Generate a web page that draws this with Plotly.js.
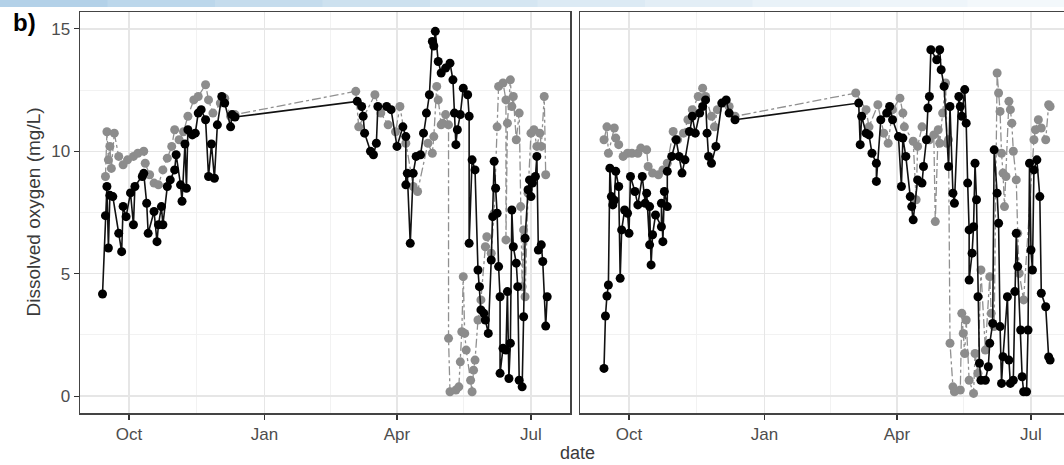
<!DOCTYPE html>
<html>
<head>
<meta charset="utf-8">
<script src="https://cdn.plot.ly/plotly-3.0.1.min.js"></script>
<style>
  html, body { margin: 0; padding: 0; background: #ffffff; overflow: hidden; }
  #chart { width: 1075px; height: 465px; }
</style>
</head>
<body>
<div id="chart"></div>
<script>
// ---------------- DATA ----------------
const tickDates = ['2017-10-01', '2018-01-01', '2018-04-01', '2018-07-01'];
const tickLabels = ['Oct', 'Jan', 'Apr', 'Jul'];
const minorDates = ['2017-11-16', '2018-02-15', '2018-05-16'];
const yTicks = [0, 5, 10, 15];
const yMinor = [2.5, 7.5, 12.5];

// Panel A (left) - black series
const aBlackDate = ['2017-09-13','2017-09-15','2017-09-16','2017-09-17','2017-09-18','2017-09-20','2017-09-24','2017-09-26','2017-09-27','2017-09-29',
 '2017-10-02','2017-10-04','2017-10-05','2017-10-10','2017-10-11','2017-10-13','2017-10-14','2017-10-18','2017-10-20','2017-10-21',
 '2017-10-23','2017-10-24','2017-10-27','2017-10-29','2017-11-01','2017-11-02','2017-11-05','2017-11-06','2017-11-08','2017-11-09',
 '2017-11-10','2017-11-13','2017-11-15','2017-11-17','2017-11-19','2017-11-22','2017-11-24','2017-11-26','2017-11-28','2017-11-30',
 '2017-12-03','2017-12-05','2017-12-09','2017-12-10','2017-12-12',
 '2018-03-05','2018-03-08','2018-03-09','2018-03-10','2018-03-14','2018-03-16','2018-03-18','2018-03-19','2018-03-25','2018-03-28',
 '2018-04-01','2018-04-05','2018-04-07','2018-04-07','2018-04-08','2018-04-10','2018-04-12','2018-04-14','2018-04-17','2018-04-19',
 '2018-04-21','2018-04-23','2018-04-25','2018-04-26','2018-04-27','2018-04-29','2018-05-01','2018-05-04','2018-05-07','2018-05-09',
 '2018-05-10','2018-05-11','2018-05-12','2018-05-14','2018-05-16','2018-05-19','2018-05-20','2018-05-20','2018-05-22','2018-05-24',
 '2018-05-26','2018-05-27','2018-05-28','2018-05-30','2018-05-31','2018-06-02','2018-06-04','2018-06-05','2018-06-06','2018-06-07',
 '2018-06-08','2018-06-09','2018-06-10','2018-06-10','2018-06-12','2018-06-14','2018-06-15','2018-06-16','2018-06-17','2018-06-18',
 '2018-06-19','2018-06-21','2018-06-22','2018-06-23','2018-06-25','2018-06-26','2018-06-27','2018-06-29','2018-06-30','2018-07-01',
 '2018-07-02','2018-07-04','2018-07-05','2018-07-06','2018-07-08','2018-07-09','2018-07-11','2018-07-12'];
const aBlackDO = [4.17,7.37,8.56,6.05,8.20,8.15,6.65,5.90,7.75,7.33,
 8.30,7.00,8.56,8.97,9.10,7.88,6.65,7.54,6.31,7.00,
 7.74,7.00,8.56,8.83,9.24,9.86,8.63,7.96,10.30,8.49,
 10.88,10.67,10.74,11.56,11.70,11.29,8.97,10.30,8.90,11.08,
 12.24,11.97,11.00,11.50,11.40,
 12.04,11.83,11.43,10.74,10.00,9.86,10.33,11.83,11.83,11.70,
 10.20,11.00,10.60,8.63,9.10,6.24,9.10,9.79,9.86,10.74,
 11.56,12.31,14.49,14.30,14.90,13.67,13.20,13.40,13.60,12.92,
 11.56,10.27,10.88,11.50,12.58,12.31,11.43,6.24,9.65,9.24,
 5.15,4.47,3.52,3.38,3.11,2.56,5.56,7.33,9.59,8.49,
 7.47,5.29,4.06,0.93,1.95,1.88,4.27,0.72,2.16,7.60,
 6.10,5.43,4.47,0.65,0.38,3.24,6.45,8.43,8.83,8.15,
 8.70,8.97,9.79,5.97,6.18,5.50,2.86,4.06];

// Panel A (left) - grey series
const aGreyDate = ['2017-09-15','2017-09-16','2017-09-17','2017-09-18','2017-09-19','2017-09-21','2017-09-24','2017-09-27','2017-09-30','2017-10-04',
 '2017-10-07','2017-10-11','2017-10-12','2017-10-15','2017-10-18','2017-10-21','2017-10-24','2017-10-27','2017-10-30','2017-11-01',
 '2017-11-04','2017-11-07','2017-11-10','2017-11-14','2017-11-17','2017-11-22','2017-11-24','2017-11-27','2017-12-02','2017-12-05',
 '2017-12-09','2017-12-12',
 '2018-03-04','2018-03-06','2018-03-17','2018-03-21','2018-03-26','2018-03-31','2018-04-03','2018-04-07','2018-04-12','2018-04-15',
 '2018-04-22','2018-04-25','2018-04-26','2018-04-28','2018-04-29','2018-05-01','2018-05-02','2018-05-04','2018-05-06','2018-05-06',
 '2018-05-07','2018-05-11','2018-05-13','2018-05-14','2018-05-15','2018-05-16','2018-05-17','2018-05-18','2018-05-21','2018-05-22',
 '2018-05-23','2018-05-24','2018-05-26','2018-05-28','2018-05-31','2018-06-01','2018-06-04','2018-06-06','2018-06-08','2018-06-09',
 '2018-06-12','2018-06-14','2018-06-14','2018-06-15','2018-06-17','2018-06-18','2018-06-19','2018-06-21','2018-06-23','2018-06-24',
 '2018-06-25','2018-06-26','2018-06-27','2018-06-29','2018-07-01','2018-07-03','2018-07-05','2018-07-07','2018-07-08','2018-07-10',
 '2018-07-11'];
const aGreyDO = [8.97,10.80,9.65,10.20,9.30,10.74,9.79,9.45,9.65,9.79,
 9.92,10.00,9.51,9.04,8.70,8.63,9.24,9.72,10.20,10.88,
 10.47,10.80,11.43,12.10,12.24,12.72,12.10,11.56,11.97,12.17,
 11.43,11.50,
 12.45,11.00,12.31,11.56,11.08,10.80,11.83,10.33,8.56,8.36,
 10.33,9.92,10.60,12.65,12.10,11.08,11.15,11.50,11.08,2.36,
 0.18,0.25,0.38,1.40,2.63,4.88,2.56,1.88,0.65,0.18,
 1.06,1.47,3.11,3.93,6.10,6.51,5.84,7.47,11.00,12.65,
 12.79,12.10,6.38,11.15,12.92,11.83,12.24,10.47,11.56,7.74,
 4.47,6.79,4.06,8.29,10.74,10.88,10.20,10.74,10.20,12.24,
 9.04];

// Panel B (right) - black series
const bBlackDate = ['2017-09-14','2017-09-15','2017-09-16','2017-09-17','2017-09-18','2017-09-19','2017-09-20','2017-09-21','2017-09-22','2017-09-24',
 '2017-09-25','2017-09-26','2017-09-28','2017-09-30','2017-10-01','2017-10-02','2017-10-05','2017-10-07','2017-10-10','2017-10-12',
 '2017-10-13','2017-10-15','2017-10-15','2017-10-16','2017-10-17','2017-10-19','2017-10-23','2017-10-23','2017-10-24','2017-10-25',
 '2017-10-27','2017-10-27','2017-10-30','2017-11-02','2017-11-04','2017-11-06','2017-11-08','2017-11-11','2017-11-13','2017-11-15',
 '2017-11-18','2017-11-20','2017-11-22','2017-11-23','2017-11-24','2017-11-26','2017-11-29','2017-12-03','2017-12-06','2017-12-08',
 '2017-12-12',
 '2018-03-06','2018-03-07','2018-03-08','2018-03-11','2018-03-13','2018-03-15','2018-03-18','2018-03-18','2018-03-21','2018-03-25',
 '2018-03-27','2018-03-29','2018-04-02','2018-04-04','2018-04-05','2018-04-07','2018-04-10','2018-04-11','2018-04-12','2018-04-15',
 '2018-04-18','2018-04-19','2018-04-21','2018-04-22','2018-04-23','2018-04-24','2018-04-28','2018-04-30','2018-05-01','2018-05-03',
 '2018-05-06','2018-05-07','2018-05-09','2018-05-10','2018-05-13','2018-05-14','2018-05-15','2018-05-17','2018-05-18','2018-05-19',
 '2018-05-20','2018-05-20','2018-05-22','2018-05-23','2018-05-24','2018-05-25','2018-05-26','2018-05-27','2018-05-28','2018-05-31',
 '2018-06-02','2018-06-03','2018-06-05','2018-06-06','2018-06-08','2018-06-09','2018-06-10','2018-06-11','2018-06-12','2018-06-15',
 '2018-06-16','2018-06-17','2018-06-19','2018-06-20','2018-06-21','2018-06-22','2018-06-24','2018-06-25','2018-06-26','2018-06-28',
 '2018-06-29','2018-06-30','2018-07-01','2018-07-02','2018-07-03','2018-07-05','2018-07-07','2018-07-08','2018-07-11','2018-07-13',
 '2018-07-14'];
const bBlackDO = [1.13,3.27,4.09,4.54,9.31,8.15,7.81,8.00,9.18,8.56,
 4.81,6.79,7.60,7.47,6.65,8.97,8.36,7.81,8.97,7.88,
 8.29,6.18,7.74,5.36,6.59,7.40,6.92,7.88,6.31,8.36,
 7.74,9.18,9.79,10.47,9.79,9.11,9.65,10.81,11.43,10.74,
 11.56,11.83,12.10,10.74,9.79,9.51,10.20,11.97,12.10,11.56,
 11.29,
 11.97,10.27,11.43,10.74,10.67,9.92,9.51,8.77,11.29,11.56,
 11.83,11.29,10.60,8.56,10.54,9.79,8.15,7.74,7.20,8.83,
 8.70,9.38,10.47,11.77,12.24,14.15,13.74,14.15,13.33,12.65,
 9.38,11.83,8.29,7.88,12.24,11.83,11.43,12.52,11.15,8.70,
 6.79,4.74,5.84,6.92,9.51,8.02,4.06,1.34,0.65,0.65,
 1.20,2.16,2.97,10.06,8.29,7.06,2.84,0.52,1.61,4.06,
 1.47,0.52,0.65,4.27,6.65,5.29,2.70,0.79,0.18,0.18,
 2.70,9.51,5.97,5.15,9.24,9.65,8.15,4.20,3.65,1.60,
 1.47];

// Panel B (right) - grey series
const bGreyDate = ['2017-09-14','2017-09-16','2017-09-17','2017-09-21','2017-09-22','2017-09-24','2017-09-27','2017-09-30','2017-10-03','2017-10-07',
 '2017-10-09','2017-10-13','2017-10-14','2017-10-17','2017-10-21','2017-10-24','2017-10-27','2017-10-31','2017-11-03','2017-11-07',
 '2017-11-10','2017-11-13','2017-11-17','2017-11-20','2017-11-22','2017-11-26','2017-11-28','2017-11-30','2017-12-05','2017-12-08',
 '2017-12-12',
 '2018-03-04','2018-03-11','2018-03-13','2018-03-19','2018-03-23','2018-03-26','2018-03-29','2018-04-03','2018-04-05','2018-04-06',
 '2018-04-12','2018-04-14','2018-04-15','2018-04-18','2018-04-23','2018-04-26','2018-04-27','2018-04-29','2018-04-30','2018-05-02',
 '2018-05-04','2018-05-05','2018-05-06','2018-05-07','2018-05-09','2018-05-10','2018-05-14','2018-05-15','2018-05-16','2018-05-17',
 '2018-05-18','2018-05-20','2018-05-23','2018-05-24','2018-05-26','2018-05-28','2018-05-31','2018-06-03','2018-06-04','2018-06-06',
 '2018-06-08','2018-06-09','2018-06-10','2018-06-11','2018-06-12','2018-06-13','2018-06-14','2018-06-16','2018-06-17','2018-06-18',
 '2018-06-19','2018-06-21','2018-06-22','2018-06-23','2018-06-26','2018-07-03','2018-07-04','2018-07-06','2018-07-08','2018-07-11',
 '2018-07-13','2018-07-14'];
const bGreyDO = [10.47,11.00,9.92,10.95,10.54,10.27,9.79,9.92,9.92,9.92,
 10.13,10.06,9.38,9.11,9.04,9.24,9.51,10.81,10.47,10.74,
 11.29,11.70,12.24,12.58,12.24,11.43,11.00,11.70,11.97,11.83,
 11.43,
 12.38,11.70,11.00,11.90,10.74,10.33,11.70,12.17,11.56,11.00,
 10.41,8.02,10.20,11.00,10.47,10.67,7.13,10.88,10.33,11.56,
 12.79,10.33,10.47,2.16,0.38,0.18,0.25,3.38,2.56,1.74,
 3.11,0.65,0.11,1.74,0.93,5.15,1.88,4.88,3.38,2.84,
 13.20,12.38,11.63,9.92,9.11,7.74,8.97,12.04,11.70,11.15,
 10.00,8.83,6.65,5.02,3.93,10.47,10.88,11.29,10.95,10.47,
 11.90,11.83];

// ---------------- STYLE ----------------
const GREY = '#8c8c8c';
const BLACK = '#000000';
function greyTrace(x, y, xa, ya) {
  return {x: x, y: y, xaxis: xa, yaxis: ya, type: 'scatter', mode: 'lines+markers',
    line: {color: '#909090', width: 1.3, dash: 'dashdot'},
    marker: {color: GREY, size: 9}, hoverinfo: 'skip'};
}
function blackTrace(x, y, xa, ya) {
  return {x: x, y: y, xaxis: xa, yaxis: ya, type: 'scatter', mode: 'lines+markers',
    line: {color: '#111111', width: 1.6},
    marker: {color: BLACK, size: 9}, hoverinfo: 'skip'};
}
const traces = [
  greyTrace(aGreyDate, aGreyDO, 'x', 'y'),
  blackTrace(aBlackDate, aBlackDO, 'x', 'y'),
  greyTrace(bGreyDate, bGreyDO, 'x2', 'y2'),
  blackTrace(bBlackDate, bBlackDO, 'x2', 'y2')
];

const W = 1075, H = 465, ML = 80, MR = 5, MT = 12, MB = 52;
const PW = W - ML - MR, PH = H - MT - MB;
const xRange = ['2017-08-28 17:00', '2018-07-27 12:00'];
const yRange = [-0.69, 15.69];
const FONT = 'Liberation Sans, Arial, sans-serif';

function xAxis(domain, anchor) {
  return {
    domain: domain, anchor: anchor, type: 'date', range: xRange,
    tickmode: 'array', tickvals: tickDates, ticktext: tickLabels,
    ticks: 'outside', ticklen: 5, tickwidth: 1.2, tickcolor: '#333333',
    tickfont: {family: FONT, size: 17, color: '#4d4d4d'},
    showgrid: true, gridcolor: '#e6e6e6', gridwidth: 1.3,
    minor: {tickmode: 'array', tickvals: minorDates, showgrid: true, gridcolor: '#f2f2f2', gridwidth: 1, ticks: ''},
    showline: true, mirror: true, linecolor: '#444444', linewidth: 1.5,
    zeroline: false, fixedrange: true
  };
}
function yAxis(anchor, showLabels) {
  return {
    anchor: anchor, domain: [0, 1], range: yRange,
    tickmode: 'array', tickvals: yTicks, ticktext: yTicks.map(String),
    ticks: showLabels ? 'outside' : '', ticklen: 5, tickwidth: 1.2, tickcolor: '#333333',
    showticklabels: showLabels,
    tickfont: {family: FONT, size: 17, color: '#4d4d4d'},
    showgrid: true, gridcolor: '#e6e6e6', gridwidth: 1.3,
    minor: {tickmode: 'array', tickvals: yMinor, showgrid: true, gridcolor: '#f2f2f2', gridwidth: 1, ticks: ''},
    showline: true, mirror: true, linecolor: '#444444', linewidth: 1.5,
    zeroline: false, fixedrange: true
  };
}

// decorative top band (light blue fading to the right)
const shapes = [];
const bandStops = ['#b3d1e8','#bcd7eb','#c5dced','#cde1ef','#d5e6f2','#dceaf4','#e3eef6','#e9f2f8','#eef5fa','#f3f8fb'];
for (let i = 0; i < bandStops.length; i++) {
  const px0 = i * W / bandStops.length, px1 = (i + 1) * W / bandStops.length + 1;
  shapes.push({type: 'rect', xref: 'paper', yref: 'paper', layer: 'below',
    x0: (px0 - ML) / PW, x1: (px1 - ML) / PW,
    y0: 1 + (MT - 7) / PH, y1: 1 + MT / PH,
    line: {width: 0}, fillcolor: bandStops[i]});
}

const layout = {
  width: W, height: H,
  margin: {l: ML, r: MR, t: MT, b: MB, pad: 0},
  paper_bgcolor: '#ffffff', plot_bgcolor: '#ffffff',
  showlegend: false,
  xaxis: xAxis([0, 490 / PW], 'y'),
  yaxis: yAxis('x', true),
  xaxis2: xAxis([500 / PW, 1], 'y2'),
  yaxis2: yAxis('x2', false),
  shapes: shapes,
  annotations: [
    {text: 'Dissolved oxygen (mg/L)', xref: 'paper', yref: 'paper', x: (33 - ML) / PW, y: 0.5,
     xanchor: 'center', yanchor: 'middle', textangle: -90, showarrow: false,
     font: {family: FONT, size: 19, color: '#3a3a3a'}},
    {text: 'date', xref: 'paper', yref: 'paper', x: (577 - ML) / PW, y: (MT + PH - 453) / PH,
     xanchor: 'center', yanchor: 'middle', showarrow: false,
     font: {family: FONT, size: 18, color: '#3a3a3a'}},
    {text: '<b>b)</b>', xref: 'paper', yref: 'paper', x: (11 - ML) / PW, y: 1 - (23 - MT) / PH,
     xanchor: 'left', yanchor: 'middle', showarrow: false,
     font: {family: FONT, size: 24, color: '#000000'}}
  ]
};

Plotly.newPlot('chart', traces, layout, {displayModeBar: false, staticPlot: true});
</script>
</body>
</html>
